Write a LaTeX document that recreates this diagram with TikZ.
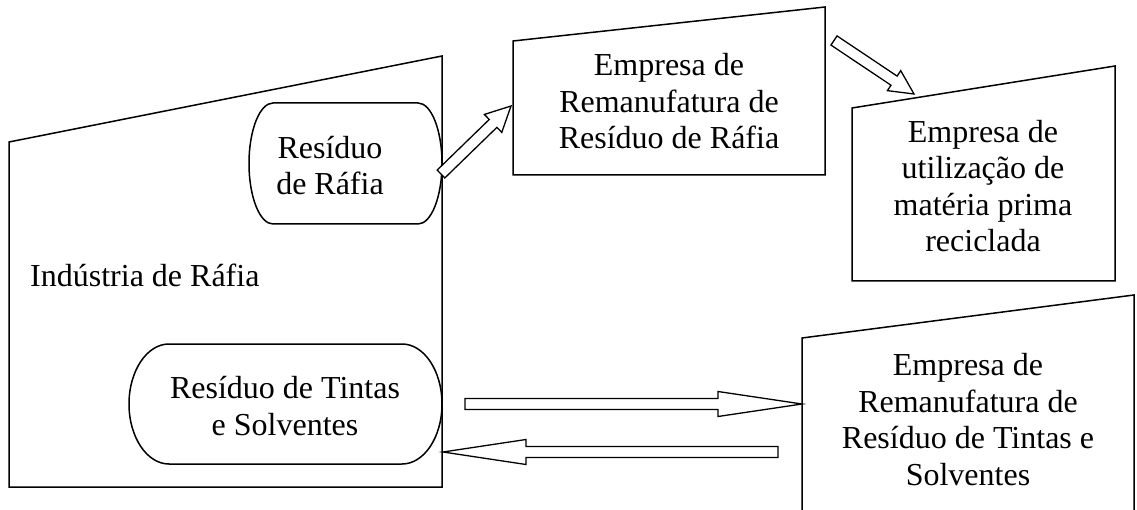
\documentclass[tikz,border=0pt]{standalone}
\usepackage{fontspec}
\setmainfont{Liberation Serif}
\usetikzlibrary{calc}
\tikzset{
  shapeline/.style={draw=black, line width=1.5pt, line join=miter},
  lbl/.style={font=\fontsize{32}{36.5}\selectfont, align=center, inner sep=0pt, anchor=base},
  blk/.style={draw=black, line width=1.3pt, fill=white, line join=miter},
}
\newcommand{\blockarrow}[4]{%
  \coordinate (hb) at ($(#2)!#3!(#1)$);
  \draw[blk] ($(#1)!5.5pt!90:(#2)$) -- ($(hb)!5.5pt!90:(#2)$) -- ($(hb)!#4!90:(#2)$) -- (#2)
     -- ($(hb)!#4!-90:(#2)$) -- ($(hb)!5.5pt!-90:(#2)$) -- ($(#1)!5.5pt!-90:(#2)$) -- cycle;
}
\begin{document}
\begin{tikzpicture}[x=1pt,y=1pt]
\useasboundingbox (0,0) rectangle (1137,509);
% Industria
\draw[shapeline] (9,22) -- (9,367) -- (442,453) -- (442,22) -- cycle;
\node[lbl, anchor=base west] (ind) at (30,222) {Indústria de Ráfia};
% Residuo de Rafia
\draw[shapeline] (273,406) -- (418,406) arc[start angle=90,end angle=-90,x radius=24,y radius=60.5]
  -- (273,285) arc[start angle=270,end angle=90,x radius=24,y radius=60.5] -- cycle;
\node[lbl] (r1) at (330,314) {Resíduo\\de Ráfia};
% Residuo de Tintas
\draw[shapeline] (169,165) -- (402,165) arc[start angle=90,end angle=-90,x radius=40,y radius=60]
  -- (169,45) arc[start angle=270,end angle=90,x radius=40,y radius=60] -- cycle;
\node[lbl] (r2) at (285,74) {Resíduo de Tintas\\e Solventes};
% Box 2
\draw[shapeline] (513,334) -- (513,468) -- (825,502) -- (825,334) -- cycle;
\node[lbl] (b2) at (669,360) {Empresa de\\Remanufatura de\\Resíduo de Ráfia};
% Box 3
\draw[shapeline] (852,228) -- (852,401) -- (1115,443) -- (1115,228) -- cycle;
\node[lbl] (b3) at (983,257) {Empresa de\\utilização de\\matéria prima\\reciclada};
% Box 4
\draw[shapeline] (802,-10) -- (802,171) -- (1134,214) -- (1134,-10);
\node[lbl] (b4) at (968,24) {Empresa de\\Remanufatura de\\Resíduo de Tintas e\\Solventes};
% arrows
\coordinate (a1t) at (441,335); \coordinate (a1h) at (511,403);
\coordinate (a2t) at (834,468.5); \coordinate (a2h) at (914,415);
\coordinate (a3t) at (465,105); \coordinate (a3h) at (802,105);
\coordinate (a4t) at (778,57); \coordinate (a4h) at (443,57);
\blockarrow{a1t}{a1h}{25pt}{12.5pt}
\blockarrow{a2t}{a2h}{24pt}{12pt}
\blockarrow{a3t}{a3h}{84pt}{12.5pt}
\blockarrow{a4t}{a4h}{83pt}{12.5pt}
\end{tikzpicture}
\end{document}
